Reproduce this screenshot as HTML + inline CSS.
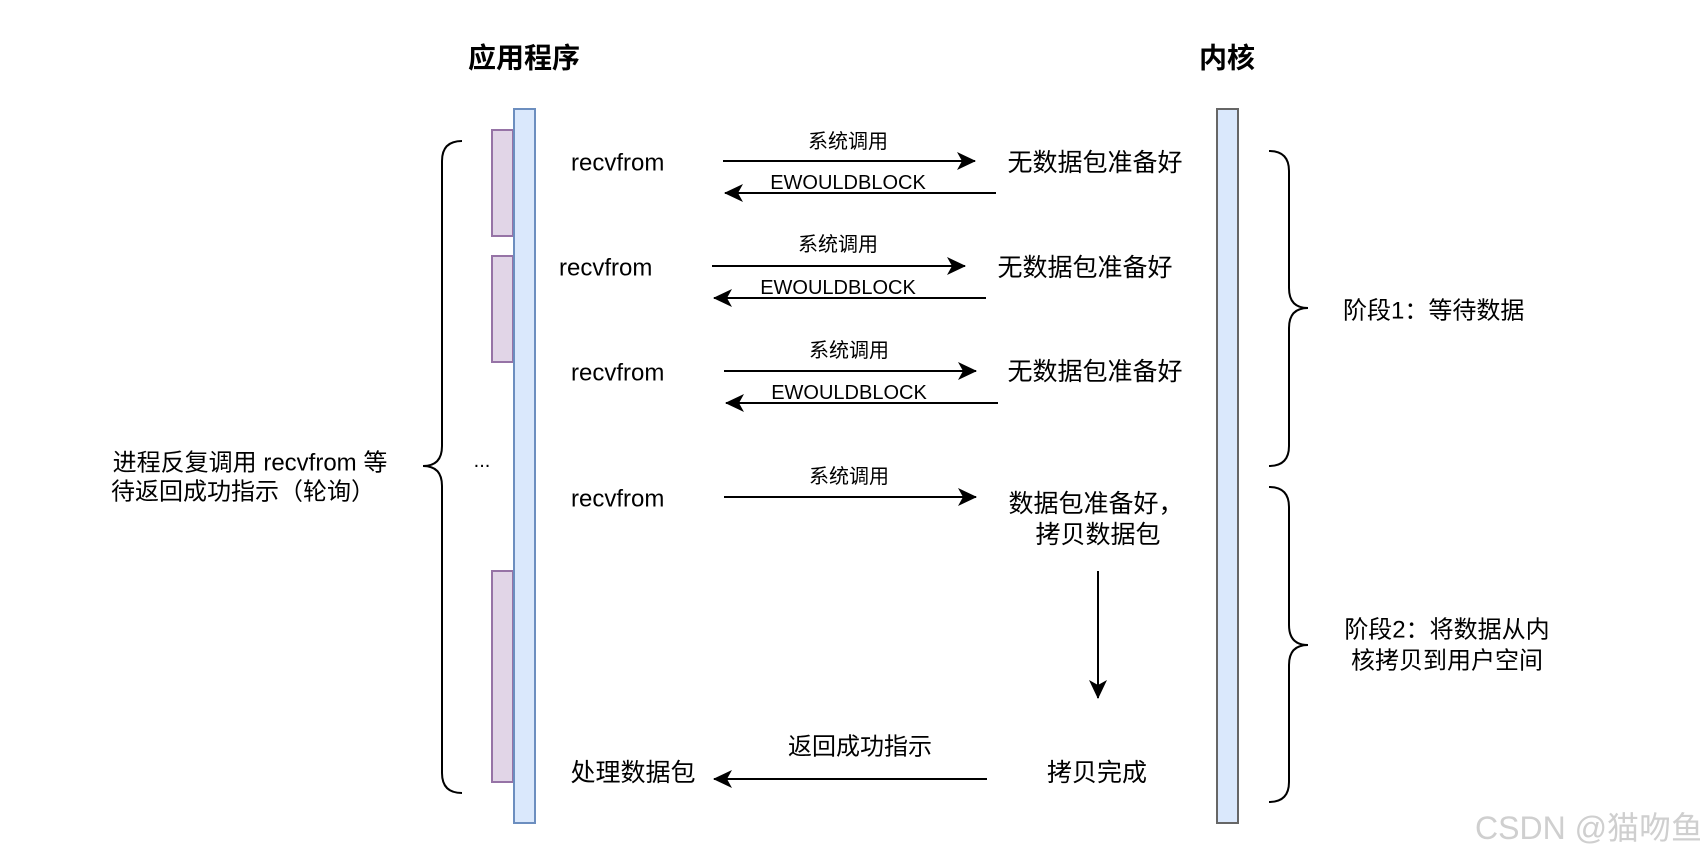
<!DOCTYPE html>
<html><head><meta charset="utf-8"><style>
html,body{margin:0;padding:0;background:#fff;}
svg{display:block;}
text{font-family:"Liberation Sans","Noto Sans CJK SC",sans-serif;fill:#000;dominant-baseline:central;}
</style></head><body>
<svg width="1700" height="857" viewBox="0 0 1700 857" xmlns="http://www.w3.org/2000/svg">
<defs>
<marker id="ah" markerWidth="22" markerHeight="20" refX="19" refY="10" orient="auto" markerUnits="userSpaceOnUse">
<path d="M1,1 L20,10 L1,19 L6,10 Z" fill="#000"/>
</marker>
</defs>
<!-- titles -->
<text x="524" y="58" font-size="28" font-weight="bold" text-anchor="middle">应用程序</text>
<text x="1227" y="58" font-size="28" font-weight="bold" text-anchor="middle">内核</text>

<!-- bars -->
<rect x="492" y="130" width="21" height="106" fill="#e1d5e7" stroke="#9673a6" stroke-width="2"/>
<rect x="492" y="256" width="21" height="106" fill="#e1d5e7" stroke="#9673a6" stroke-width="2"/>
<rect x="492" y="571" width="21" height="211" fill="#e1d5e7" stroke="#9673a6" stroke-width="2"/>
<rect x="514" y="109" width="21" height="714" fill="#dae8fc" stroke="#6c8ebf" stroke-width="2"/>
<rect x="1217" y="109" width="21" height="714" fill="#dae8fc" stroke="#666" stroke-width="2"/>

<!-- left brace -->
<path d="M462,141 Q442,141 442,161 L442,446 Q442,466 423,466 Q442,466 442,486 L442,773 Q442,793 462,793" fill="none" stroke="#000" stroke-width="2"/>
<!-- right braces -->
<path d="M1269,151 Q1289,151 1289,171 L1289,288 Q1289,308 1308,308 Q1289,308 1289,328 L1289,446 Q1289,466 1269,466" fill="none" stroke="#000" stroke-width="2"/>
<path d="M1269,487 Q1289,487 1289,507 L1289,625 Q1289,645 1308,645 Q1289,645 1289,665 L1289,782 Q1289,802 1269,802" fill="none" stroke="#000" stroke-width="2"/>

<!-- left text -->
<text x="250" y="463" font-size="24" text-anchor="middle">进程反复调用 recvfrom 等</text>
<text x="243" y="492" font-size="24" text-anchor="middle">待返回成功指示（轮询）</text>
<text x="482" y="461" font-size="20" text-anchor="middle">...</text>

<!-- row1 -->
<text x="571" y="163" font-size="24">recvfrom</text>
<line x1="723" y1="161" x2="975" y2="161" stroke="#000" stroke-width="2" marker-end="url(#ah)"/>
<line x1="996" y1="193" x2="725" y2="193" stroke="#000" stroke-width="2" marker-end="url(#ah)"/>
<text x="848" y="142" font-size="20" text-anchor="middle">系统调用</text>
<text x="848" y="183" font-size="20" text-anchor="middle">EWOULDBLOCK</text>
<text x="1095" y="163" font-size="25" text-anchor="middle">无数据包准备好</text>

<!-- row2 -->
<text x="559" y="268" font-size="24">recvfrom</text>
<line x1="712" y1="266" x2="965" y2="266" stroke="#000" stroke-width="2" marker-end="url(#ah)"/>
<line x1="986" y1="298" x2="714" y2="298" stroke="#000" stroke-width="2" marker-end="url(#ah)"/>
<text x="838" y="245" font-size="20" text-anchor="middle">系统调用</text>
<text x="838" y="288" font-size="20" text-anchor="middle">EWOULDBLOCK</text>
<text x="1085" y="268" font-size="25" text-anchor="middle">无数据包准备好</text>

<!-- row3 -->
<text x="571" y="373" font-size="24">recvfrom</text>
<line x1="724" y1="371" x2="976" y2="371" stroke="#000" stroke-width="2" marker-end="url(#ah)"/>
<line x1="998" y1="403" x2="726" y2="403" stroke="#000" stroke-width="2" marker-end="url(#ah)"/>
<text x="849" y="351" font-size="20" text-anchor="middle">系统调用</text>
<text x="849" y="393" font-size="20" text-anchor="middle">EWOULDBLOCK</text>
<text x="1095" y="372" font-size="25" text-anchor="middle">无数据包准备好</text>

<!-- row4 -->
<text x="571" y="499" font-size="24">recvfrom</text>
<line x1="724" y1="497" x2="976" y2="497" stroke="#000" stroke-width="2" marker-end="url(#ah)"/>
<text x="849" y="477" font-size="20" text-anchor="middle">系统调用</text>
<text x="1096" y="504" font-size="25" text-anchor="middle">数据包准备好，</text>
<text x="1098" y="535" font-size="25" text-anchor="middle">拷贝数据包</text>
<line x1="1098" y1="571" x2="1098" y2="698" stroke="#000" stroke-width="2" marker-end="url(#ah)"/>

<!-- bottom -->
<text x="1097" y="773" font-size="25" text-anchor="middle">拷贝完成</text>
<text x="633" y="773" font-size="25" text-anchor="middle">处理数据包</text>
<line x1="987" y1="779" x2="714" y2="779" stroke="#000" stroke-width="2" marker-end="url(#ah)"/>
<text x="860" y="747" font-size="24" text-anchor="middle">返回成功指示</text>

<!-- stage labels -->
<text x="1343" y="311" font-size="24">阶段1：等待数据</text>
<text x="1447" y="630" font-size="24" text-anchor="middle">阶段2：将数据从内</text>
<text x="1447" y="661" font-size="24" text-anchor="middle">核拷贝到用户空间</text>

<!-- watermark -->
<text x="1475" y="828" font-size="32" style="fill:#cfcfcf">CSDN @猫吻鱼</text>
</svg>
</body></html>
